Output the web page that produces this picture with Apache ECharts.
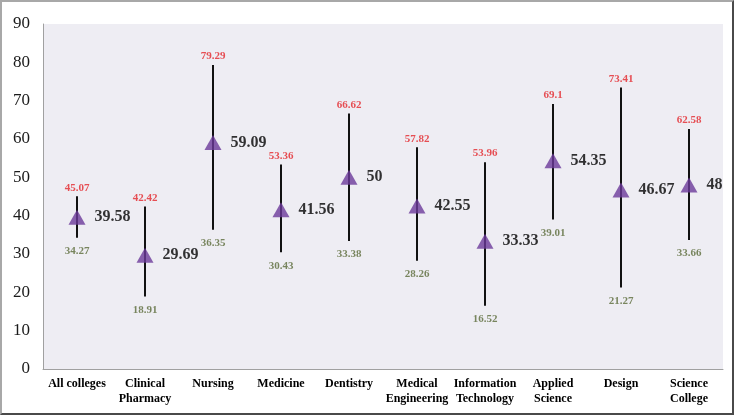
<!DOCTYPE html>
<html>
<head>
<meta charset="utf-8">
<script src="https://cdn.jsdelivr.net/npm/echarts@6/dist/echarts.min.js"></script>
<style>
html,body{margin:0;padding:0;background:#fff;}
#c{width:734px;height:415px;box-sizing:border-box;border:2px solid #a8a8a8;border-right-color:#4a4a4a;border-bottom-color:#4a4a4a;}
</style>
</head>
<body>
<div id="c"></div>
<script>
const categories = ['All colleges','Clinical\nPharmacy','Nursing','Medicine','Dentistry','Medical\nEngineering','Information\nTechnology','Applied\nScience','Design','Science\nCollege'];
const highValues = [45.07, 42.42, 79.29, 53.36, 66.62, 57.82, 53.96, 69.1, 73.41, 62.58];
const meanValues = [39.58, 29.69, 59.09, 41.56, 50, 42.55, 33.33, 54.35, 46.67, 48];
const lowValues  = [34.27, 18.91, 36.35, 30.43, 33.38, 28.26, 16.52, 39.01, 21.27, 33.66];
const yTicks = [0, 10, 20, 30, 40, 50, 60, 70, 80, 90];

const chart = echarts.init(document.getElementById('c'), null, {renderer: 'canvas'});
const serif = '"Liberation Serif", "DejaVu Serif", serif';
chart.setOption({
  animation: false,
  backgroundColor: '#ffffff',
  grid: {left: 41, right: 9, top: 22, bottom: 44, show: true, backgroundColor: '#eeedf3', borderWidth: 0},
  xAxis: {
    type: 'category',
    data: categories,
    axisLine: {show: true, lineStyle: {color: '#a0a0a0', width: 1}},
    axisTick: {show: false},
    axisLabel: {interval: 0, color: '#000', fontFamily: serif, fontWeight: 'bold', fontSize: 12, lineHeight: 15, margin: 7},
    splitLine: {show: false}
  },
  yAxis: {
    type: 'value',
    min: yTicks[0], max: yTicks[yTicks.length - 1], interval: 10,
    axisLine: {show: true, lineStyle: {color: '#a0a0a0', width: 1}},
    axisTick: {show: false},
    axisLabel: {color: '#1a1a1a', fontFamily: serif, fontSize: 17, margin: 13},
    splitLine: {show: false}
  },
  series: [
    {
      type: 'custom',
      data: categories.map((c, i) => [i, lowValues[i], highValues[i]]),
      renderItem: function (params, api) {
        const p1 = api.coord([api.value(0), api.value(1)]);
        const p2 = api.coord([api.value(0), api.value(2)]);
        return {type: 'line', shape: {x1: p1[0], y1: p1[1], x2: p2[0], y2: p2[1]}, style: {stroke: '#111', lineWidth: 2}};
      },
      z: 2
    },
    {
      type: 'scatter',
      data: highValues,
      symbolSize: 0,
      label: {show: true, position: 'top', distance: 3, color: '#e3262b', fontFamily: serif, fontWeight: 'bold', fontSize: 11},
      z: 3
    },
    {
      type: 'scatter',
      data: lowValues,
      symbolSize: 0,
      label: {show: true, position: 'bottom', distance: 8, color: '#5a6a38', fontFamily: serif, fontWeight: 'bold', fontSize: 11},
      z: 3
    },
    {
      type: 'scatter',
      data: meanValues,
      symbol: 'triangle',
      symbolSize: [17, 15],
      itemStyle: {color: '#6b3a9a'},
      label: {show: true, position: 'right', distance: 9, color: '#000', fontFamily: serif, fontWeight: 'bold', fontSize: 16},
      z: 4
    }
  ]
});
</script>
</body>
</html>
